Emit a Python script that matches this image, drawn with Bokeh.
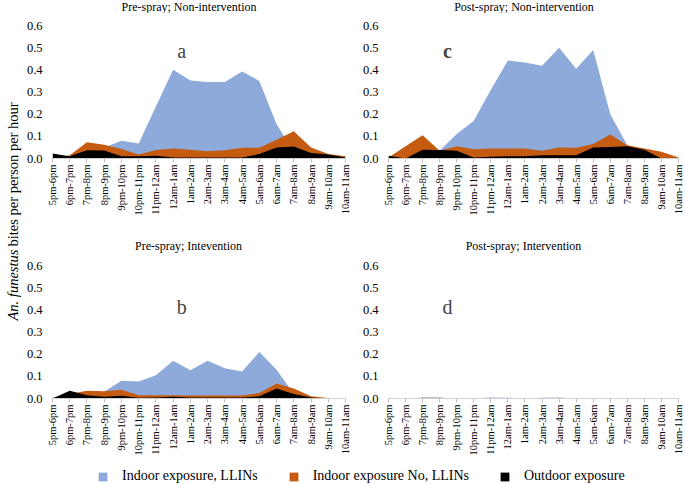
import math
from bokeh.plotting import figure
from bokeh.models import Range1d, FixedTicker, Label, Legend, LegendItem
from bokeh.layouts import row, column
from bokeh.embed import file_html
from bokeh.resources import INLINE

hours = ["5pm-6pm", "6pm-7pm", "7pm-8pm", "8pm-9pm", "9pm-10pm", "10pm-11pm",
         "11pm-12am", "12am-1am", "1am-2am", "2am-3am", "3am-4am", "4am-5am",
         "5am-6am", "6am-7am", "7am-8am", "8am-9am", "9am-10am", "10am-11am"]

# Panel a: Pre-spray; Non-intervention
a_llin = [0.0, 0.01, 0.03, 0.05, 0.08, 0.068, 0.235, 0.40, 0.352, 0.345, 0.345, 0.392, 0.35, 0.155, 0.03, 0.01, 0.005, 0.0]
a_nollin = [0.0, 0.015, 0.073, 0.062, 0.043, 0.018, 0.038, 0.045, 0.04, 0.033, 0.037, 0.048, 0.048, 0.085, 0.123, 0.05, 0.02, 0.01]
a_out = [0.022, 0.01, 0.037, 0.036, 0.01, 0.01, 0.012, 0.005, 0.005, 0.005, 0.005, 0.005, 0.02, 0.05, 0.054, 0.025, 0.018, 0.005]

# Panel b: Pre-spray; Intevention
b_llin = [0.0, 0.01, 0.02, 0.03, 0.08, 0.077, 0.105, 0.17, 0.128, 0.17, 0.136, 0.122, 0.21, 0.13, 0.02, 0.005, 0.0, 0.0]
b_nollin = [0.003, 0.02, 0.035, 0.033, 0.04, 0.015, 0.015, 0.015, 0.013, 0.013, 0.013, 0.013, 0.025, 0.068, 0.045, 0.01, 0.002, 0.0]
b_out = [0.0, 0.035, 0.015, 0.008, 0.012, 0.003, 0.005, 0.008, 0.005, 0.005, 0.005, 0.005, 0.01, 0.045, 0.02, 0.005, 0.0, 0.0]

# Panel c: Post-spray; Non-intervention
c_llin = [0.0, 0.01, 0.03, 0.035, 0.11, 0.17, 0.31, 0.442, 0.433, 0.418, 0.50, 0.405, 0.49, 0.20, 0.06, 0.04, 0.01, 0.0]
c_nollin = [0.005, 0.055, 0.105, 0.035, 0.055, 0.042, 0.045, 0.045, 0.045, 0.035, 0.05, 0.048, 0.065, 0.108, 0.06, 0.045, 0.03, 0.005]
c_out = [0.012, 0.0, 0.04, 0.038, 0.035, 0.005, 0.008, 0.01, 0.01, 0.015, 0.015, 0.015, 0.05, 0.052, 0.055, 0.04, 0.0, 0.0]

# Panel d: Post-spray; Intervention
d_llin = [0.0, 0.0, 0.0, 0.0, 0.0, 0.0, 0.004, 0.003, 0.0, 0.003, 0.005, 0.0, 0.0, 0.0, 0.0, 0.0, 0.0, 0.0]
d_nollin = [0.0] * 18
d_out = [0.0, 0.0, 0.003, 0.003, 0.0, 0.0, 0.0, 0.0, 0.0, 0.0, 0.0, 0.0, 0.0, 0.0, 0.0, 0.0, 0.0, 0.0]

y_ticks = [0.0, 0.1, 0.2, 0.3, 0.4, 0.5, 0.6]
series_names = ["Indoor exposure, LLINs", "Indoor exposure No, LLINs", "Outdoor exposure"]
panel_titles = ["Pre-spray; Non-intervention", "Post-spray; Non-intervention",
                "Pre-spray; Intevention", "Post-spray; Intervention"]
colors = ["#8eaadb", "#c55a11", "#000000"]

FONT = "Liberation Serif"


def blank_fig(width, height):
    f = figure(width=width, height=height, x_range=Range1d(0, width),
               y_range=Range1d(0, height), output_backend="svg",
               toolbar_location=None, x_axis_location=None, y_axis_location=None,
               min_border_left=0, min_border_right=0, min_border_top=0,
               min_border_bottom=0)
    f.xgrid.visible = False
    f.ygrid.visible = False
    f.outline_line_color = None
    return f


def title_fig(text, width, height, cx, cy):
    f = blank_fig(width, height)
    f.add_layout(Label(x=cx, y=cy, text=text, text_font=FONT, text_font_size="12px",
                       text_align="center", text_baseline="middle",
                       text_color="#000000"))
    return f


def make_panel(letter, letter_x, letter_y, letter_bold, data,
               width, height, bl, br, bt, bb):
    p = figure(width=width, height=height, x_range=Range1d(0, len(hours) - 1),
               y_range=Range1d(0, 0.6), output_backend="svg", toolbar_location=None,
               min_border_left=bl, min_border_right=br, min_border_top=bt,
               min_border_bottom=bb)
    x = list(range(len(hours)))
    for vals, col in zip(data, colors):
        p.varea(x=x, y1=[0] * len(x), y2=vals, fill_color=col, fill_alpha=1.0)

    p.xgrid.visible = False
    p.ygrid.visible = False
    p.outline_line_color = None

    p.xaxis.ticker = FixedTicker(ticks=x)
    p.xaxis.major_label_overrides = {i: h for i, h in enumerate(hours)}
    p.xaxis.major_label_orientation = math.pi / 2
    p.xaxis.major_label_text_font = FONT
    p.xaxis.major_label_text_font_size = "10.5px"
    p.xaxis.major_label_text_color = "#000000"
    p.xaxis.axis_line_color = "#d0d0d0"
    p.xaxis.major_tick_line_color = "#bfbfbf"
    p.xaxis.major_tick_out = 4
    p.xaxis.major_tick_in = 0
    p.xaxis.minor_tick_line_color = None
    p.xaxis.major_label_standoff = 2

    p.yaxis.ticker = FixedTicker(ticks=y_ticks)
    p.yaxis.major_label_overrides = {t: f"{t:.1f}" for t in y_ticks}
    p.yaxis.major_label_text_font = FONT
    p.yaxis.major_label_text_font_size = "12.5px"
    p.yaxis.major_label_text_color = "#000000"
    p.yaxis.axis_line_color = None
    p.yaxis.major_tick_line_color = None
    p.yaxis.major_tick_out = 0
    p.yaxis.major_tick_in = 0
    p.yaxis.minor_tick_line_color = None
    p.yaxis.minor_tick_out = 0
    p.yaxis.major_label_standoff = 10

    p.add_layout(Label(x=letter_x, y=letter_y, text=letter, text_font=FONT,
                       text_font_size="20px", text_align="center",
                       text_baseline="middle",
                       text_font_style="bold" if letter_bold else "normal"))
    return p


ta = title_fig(panel_titles[0], 335, 13, 166.5, 7)
tc = title_fig(panel_titles[1], 328, 13, 166.5, 7)
tb = title_fig(panel_titles[2], 335, 13, 166, 8)
td = title_fig(panel_titles[3], 328, 13, 166, 8)

fa = make_panel("a", 7.5, 0.487, False, [a_llin, a_nollin, a_out], 335, 227, 30, 12, 12, 82)
fc = make_panel("c", 3.46, 0.487, True, [c_llin, c_nollin, c_out], 328, 227, 31, 7, 12, 82)
fb = make_panel("b", 7.5, 0.414, False, [b_llin, b_nollin, b_out], 335, 207, 30, 12, 12, 62)
fd = make_panel("d", 3.46, 0.414, False, [d_llin, d_nollin, d_out], 328, 207, 31, 7, 12, 62)

# y-axis label column
yl = blank_fig(22, 460)
yl.add_layout(Label(x=12, y=140, text="An. funestus", angle=math.pi / 2,
                    text_font=FONT, text_font_size="14.5px", text_font_style="italic",
                    text_align="left", text_baseline="middle", text_color="#000000"))
yl.add_layout(Label(x=12, y=214, text="bites per person per hour", angle=math.pi / 2,
                    text_font=FONT, text_font_size="14.5px",
                    text_align="left", text_baseline="middle", text_color="#000000"))

# legend row
lg = figure(width=685, height=24, x_range=Range1d(0, 1), y_range=Range1d(0, 1),
            output_backend="svg", toolbar_location=None,
            x_axis_location=None, y_axis_location=None,
            min_border_left=0, min_border_right=0, min_border_top=0, min_border_bottom=0)
lg.xgrid.visible = False
lg.ygrid.visible = False
lg.outline_line_color = None
items = []
for name, col in zip(series_names, colors):
    # swatch renderer kept outside the visible range; only its legend entry shows
    r = lg.quad(left=[5], right=[6], top=[6], bottom=[5], fill_color=col, line_color=None)
    items.append(LegendItem(label=name, renderers=[r]))
legend = Legend(items=items, orientation="horizontal", location=(97, 0),
                glyph_width=11, glyph_height=11, label_standoff=14, spacing=30,
                padding=0, margin=0, border_line_color=None,
                background_fill_alpha=0, label_text_font=FONT,
                label_text_font_size="14px", label_height=14, label_width=10,
                label_text_color="#000000")
lg.add_layout(legend)

panels = column(row(ta, tc), row(fa, fc), row(tb, td), row(fb, fd))
layout = column(row(yl, panels), lg)

open("out.html", "w").write(file_html(layout, INLINE))
